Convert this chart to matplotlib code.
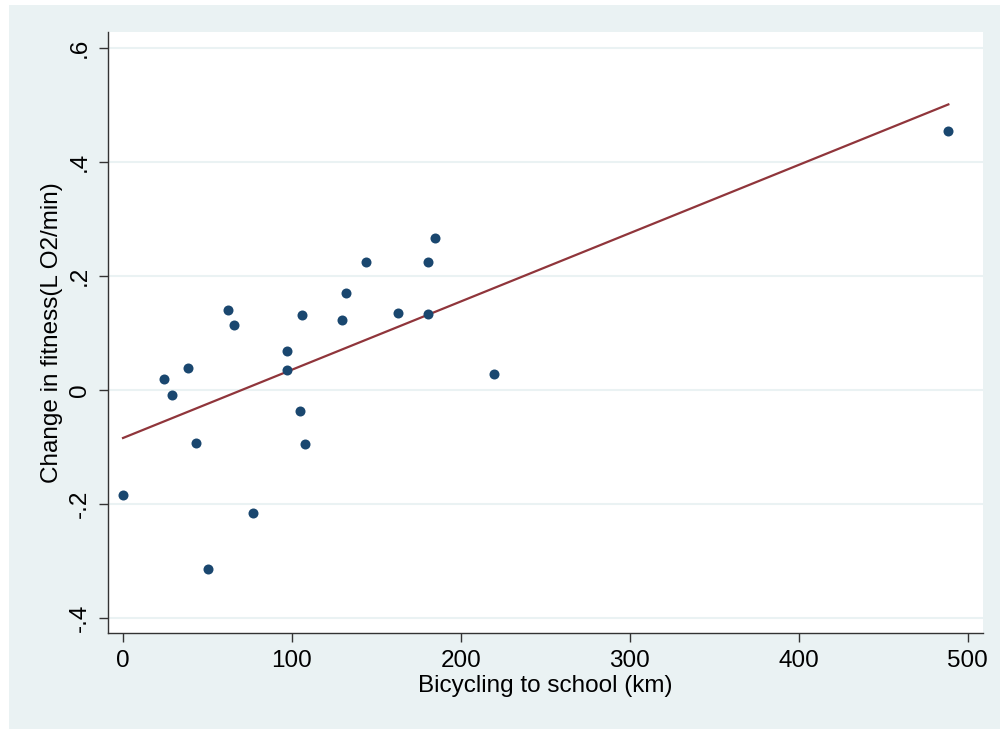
import matplotlib
matplotlib.use("Agg")
import matplotlib.pyplot as plt
from matplotlib.patches import Rectangle

# Bicycling distance (km) vs change in fitness (L O2/min)
bike_km = [0, 24.5, 29, 38.5, 43, 50.5, 62, 65.5, 77, 97, 97, 104.5,
           106, 107.5, 129.5, 132, 144, 162.5, 180.5, 180.5, 184.5, 219.5, 488]
fitness_change = [-0.184, 0.019, -0.008, 0.039, -0.092, -0.314, 0.141, 0.114,
                  -0.215, 0.068, 0.035, -0.037, 0.131, -0.094, 0.123, 0.171,
                  0.224, 0.135, 0.224, 0.133, 0.266, 0.029, 0.454]

# linear fit endpoints
fit_x = [0, 488.5]
fit_y = [-0.084, 0.501]

x_ticks = [0, 100, 200, 300, 400, 500]
y_ticks = [-0.4, -0.2, 0, 0.2, 0.4, 0.6]
y_tick_labels = ["-.4", "-.2", "0", ".2", ".4", ".6"]

bg = "#eaf2f3"
navy = "#1a476f"
maroon = "#90353b"

plt.rcParams["font.family"] = ["Liberation Sans", "DejaVu Sans"]

fig = plt.figure(figsize=(10, 7.29), dpi=100, facecolor="white")
fig.patches.append(Rectangle((0.009, 0), 0.991, 1 - 5 / 729,
                             transform=fig.transFigure, facecolor=bg,
                             edgecolor="none", zorder=-10))

ax = fig.add_axes([0.108, 0.1317, 0.875, 0.8244])
ax.set_zorder(1)
ax.set_facecolor("white")

ax.scatter(bike_km, fitness_change, s=52, color=navy, zorder=3, linewidths=0)
ax.plot(fit_x, fit_y, color=maroon, linewidth=1.6, zorder=2)

ax.set_xlim(-8.9, 509)
ax.set_ylim(-0.426, 0.628)

ax.set_xticks(x_ticks)
ax.set_yticks(y_ticks)
ax.set_yticklabels(y_tick_labels, rotation=90, va="center")

ax.grid(axis="y", color=bg, linewidth=1.5)
ax.set_axisbelow(True)

for side in ["top", "right"]:
    ax.spines[side].set_visible(False)
for side in ["left", "bottom"]:
    ax.spines[side].set_color("#333333")
    ax.spines[side].set_linewidth(1.0)

ax.tick_params(axis="both", direction="out", length=6.5, width=1.0,
               color="#333333", labelsize=17.5, labelcolor="black")
ax.tick_params(axis="x", pad=6)
ax.tick_params(axis="y", pad=6)

ax.set_xlabel("Bicycling to school (km)", fontsize=17.5, labelpad=2)
ax.set_ylabel("Change in fitness(L O2/min)", fontsize=17.5, labelpad=4)

fig.savefig("out.png", dpi=100, facecolor=fig.get_facecolor())
